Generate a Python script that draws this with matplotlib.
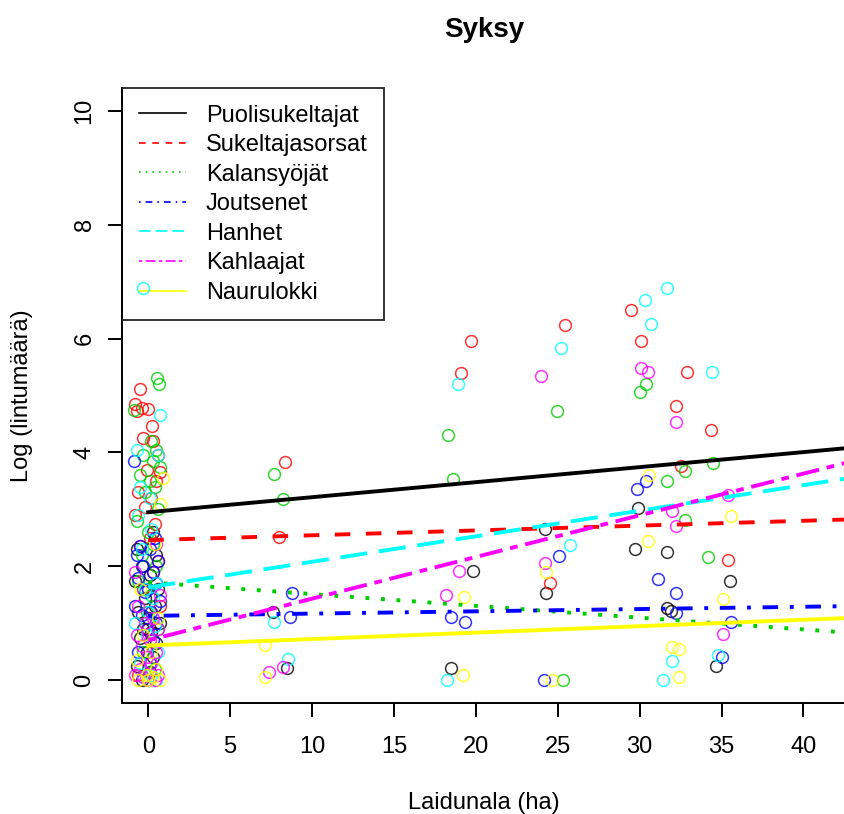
import matplotlib
matplotlib.use("Agg")
import matplotlib.pyplot as plt

plt.rcParams['font.family'] = ['Liberation Sans', 'DejaVu Sans']

names = ["Puolisukeltajat", "Sukeltajasorsat", "Kalansyöjät", "Joutsenet",
         "Hanhet", "Kahlaajat", "Naurulokki"]
colors = ["black", "red", "#00CD00", "blue", "cyan", "magenta", "yellow"]

# regression lines: value at x=0 and slope
intercepts = [2.95, 2.46, 1.72, 1.13, 1.63, 0.70, 0.61]
slopes = [0.0264, 0.0085, -0.0207, 0.0040, 0.0449, 0.0732, 0.0113]

# points per group (far sites first, then the cluster at 0 ha)
puoli_x = [24.2, 24.3, 19.85, 7.6, 8.5, 18.5, 29.9, 29.7, 31.7, 35.5, 31.7, 31.9, 34.65,
           0.3, -0.7, 0.5, -0.4, 0.1, -0.8, 0.6, -0.2, 0.4, -0.6, 0.0, 0.7, -0.3, 0.2,
           -0.5, 0.5, -0.1, 0.3, -0.7, 0.1, -0.4]
puoli_y = [2.65, 1.53, 1.91, 1.19, 0.21, 0.21, 3.02, 2.30, 2.26, 1.74, 1.26, 1.22, 0.25,
           2.6, 2.3, 2.2, 2.0, 1.85, 1.75, 1.6, 1.45, 1.3, 1.2, 1.1, 1.0, 0.9, 0.85,
           0.75, 0.65, 0.5, 0.4, 0.25, 0.15, 0.0]

sukel_x = [25.44, 19.7, 19.1, 8.36, 8.0, 24.5, 29.5, 30.1, 32.9, 32.2, 34.35, 32.5, 35.4,
           -0.5, -0.8, -0.4, -0.7, 0.0, 0.25, -0.3, 0.3, 0.6, -0.1, 0.7, 0.5, -0.6,
           0.2, -0.2, -0.8, 0.4, 0.1, -0.5, 0.6, 0.3, -0.3, 0.7, 0.0, -0.6]
sukel_y = [6.23, 5.95, 5.39, 3.84, 2.51, 1.70, 6.51, 5.95, 5.42, 4.82, 4.40, 3.77, 2.12,
           5.12, 4.85, 4.78, 4.72, 4.76, 4.47, 4.26, 4.2, 3.95, 3.7, 3.65, 3.5, 3.3,
           3.2, 3.05, 2.9, 2.75, 2.5, 2.35, 2.1, 1.9, 1.6, 1.3, 0.9, 0.1]

kala_x = [24.95, 18.3, 18.6, 7.7, 8.2, 25.3, 30.4, 30.0, 34.5, 32.8, 31.7, 32.8, 34.2,
          0.55, 0.65, -0.85, 0.2, 0.5, -0.3, 0.3, 0.7, -0.5, 0.1, 0.4, -0.2, 0.6,
          -0.7, 0.0, 0.3, -0.4, 0.5, -0.6, 0.2, -0.1, 0.6, -0.3, 0.4, 0.0]
kala_y = [4.72, 4.30, 3.54, 3.63, 3.18, 0.0, 5.21, 5.07, 3.81, 3.67, 3.49, 2.81, 2.16,
          5.30, 5.21, 4.74, 4.2, 4.05, 3.95, 3.85, 3.75, 3.6, 3.5, 3.4, 3.3, 3.0,
          2.8, 2.6, 2.4, 2.2, 2.0, 1.75, 1.5, 1.2, 0.9, 0.5, 0.2, 0.0]

jout_x = [25.1, 8.8, 8.66, 18.5, 19.35, 24.15, 30.4, 29.85, 31.1, 32.2, 32.2, 35.6, 35.0,
          -0.85, 0.4, -0.5, 0.1, -0.7, 0.6, -0.3, 0.3, -0.6, 0.5, 0.0, -0.2, 0.7,
          -0.8, 0.2, -0.4, 0.5, -0.1, 0.3, -0.6, 0.1]
jout_y = [2.19, 1.53, 1.11, 1.11, 1.03, 0.0, 3.49, 3.35, 1.77, 1.53, 1.18, 1.03, 0.40,
          3.85, 2.5, 2.35, 2.3, 2.2, 2.1, 2.0, 1.9, 1.8, 1.7, 1.6, 1.55, 1.4,
          1.3, 1.2, 1.15, 1.0, 0.9, 0.7, 0.5, 0.3]

hanhi_x = [25.2, 18.9, 25.75, 7.7, 8.55, 18.25, 31.7, 30.3, 30.7, 34.4, 31.95, 34.8, 31.4,
           0.7, -0.7, 0.6, -0.5, 0.1, -0.6, 0.2, -0.4, 0.5, -0.2, 0.3, 0.0, -0.8,
           0.4, -0.1, 0.6, -0.5, 0.2, -0.3, 0.5]
hanhi_y = [5.84, 5.21, 2.37, 1.02, 0.37, 0.0, 6.89, 6.68, 6.26, 5.42, 0.33, 0.44, 0.0,
           4.65, 4.05, 3.95, 3.4, 3.2, 2.9, 2.65, 2.3, 1.7, 1.6, 1.45, 1.2, 1.0,
           0.95, 0.8, 0.5, 0.3, 0.1, 0.05, 0.0]
# one Hanhet point sits on top of the legend
hanhi_top_x = [-0.3]
hanhi_top_y = [6.88]

kahla_x = [24.0, 24.2, 19.0, 18.2, 8.2, 7.4, 30.1, 30.5, 32.2, 32.0, 35.4, 32.2, 35.1,
           0.5, -0.8, 0.7, -0.6, 0.3, -0.2, 0.6, -0.7, 0.1, -0.4, 0.5, -0.1, 0.2,
           -0.5, 0.6, -0.3, 0.0, 0.4, -0.8]
kahla_y = [5.35, 2.05, 1.91, 1.49, 0.23, 0.14, 5.49, 5.42, 4.54, 2.97, 3.25, 2.70, 0.82,
           2.4, 1.9, 1.5, 1.3, 1.1, 1.0, 0.9, 0.8, 0.7, 0.6, 0.5, 0.4, 0.3,
           0.2, 0.1, 0.05, 0.0, 0.0, 0.1]

nauru_x = [24.3, 19.3, 7.1, 7.1, 19.2, 24.65, 30.6, 35.6, 30.5, 35.1, 32.0, 32.4, 32.4,
           0.9, 0.7, 0.4, -0.5, 0.6, -0.3, 0.2, -0.7, 0.5, -0.1, 0.3, -0.6, 0.0, 0.7]
nauru_y = [1.90, 1.47, 0.61, 0.05, 0.09, 0.0, 3.60, 2.89, 2.44, 1.42, 0.58, 0.54, 0.05,
           3.55, 3.1, 2.4, 1.6, 1.1, 0.8, 0.5, 0.35, 0.2, 0.1, 0.05, 0.0, 0.0, 0.0]

xs = [puoli_x, sukel_x, kala_x, jout_x, hanhi_x, kahla_x, nauru_x]
ys = [puoli_y, sukel_y, kala_y, jout_y, hanhi_y, kahla_y, nauru_y]

# R lty 1..6 (+1 again)
dash_styles = [None, (4, 4), (1, 3), (1, 3, 4, 3), (7, 3), (2, 2, 6, 2), None]

fig = plt.figure(figsize=(8.44, 8.14), dpi=100)
ax = fig.add_axes([122 / 844, 111 / 814, 724 / 844, 615 / 814])

for x, y, c in zip(xs, ys, colors):
    ax.plot(x, y, 'o', mfc='none', mec=c, ms=8.5, mew=1.1, alpha=0.8, clip_on=False)

line_x = [0, 44]
handles = []
for i in range(7):
    yy = [intercepts[i] + slopes[i] * xv for xv in line_x]
    ln, = ax.plot(line_x, yy, color=colors[i], lw=2.8)
    if dash_styles[i] is not None:
        ln.set_dashes(dash_styles[i])
    h, = ax.plot([], [], color=colors[i], lw=1.2)
    if dash_styles[i] is not None:
        h.set_dashes(dash_styles[i])
    handles.append(h)

leg = ax.legend(handles, names, loc='upper left', bbox_to_anchor=(0, 1),
                borderaxespad=0, fontsize=17, fancybox=False,
                edgecolor='black', handlelength=2.0, handletextpad=0.85,
                labelspacing=0.32, borderpad=0.7)
leg.get_frame().set_facecolor('none')
leg.get_frame().set_linewidth(1.4)

ax.plot(hanhi_top_x, hanhi_top_y, 'o', mfc='none', mec='cyan', ms=8.5, mew=1.1,
        alpha=0.8, zorder=6)

ax.set_xlim(-1.6, 42.6)
ax.set_ylim(-0.4, 10.4)
ax.set_xticks([0, 5, 10, 15, 20, 25, 30, 35, 40])
ax.set_yticks([0, 2, 4, 6, 8, 10])
ax.spines['top'].set_visible(False)
ax.spines['right'].set_visible(False)
for s in ['left', 'bottom']:
    ax.spines[s].set_linewidth(1.4)
ax.tick_params(length=10, width=1.4, labelsize=17, pad=14)
ax.tick_params(axis='y', pad=9)
plt.setp(ax.get_yticklabels(), rotation=90, va='center')

ax.set_xlabel("Laidunala (ha)", fontsize=17)
ax.set_ylabel("Log (lintumäärä)", fontsize=17)
ax.xaxis.set_label_coords(0.5, -0.1626)
ax.xaxis.label.set_va('center')
ax.yaxis.set_label_coords(-0.138, 0.5)
ax.yaxis.label.set_va('center')

fig.text(484 / 844, 1 - 30 / 814, "Syksy", fontsize=20, fontweight='bold',
         ha='center', va='center')

fig.savefig("out.png", dpi=100)
